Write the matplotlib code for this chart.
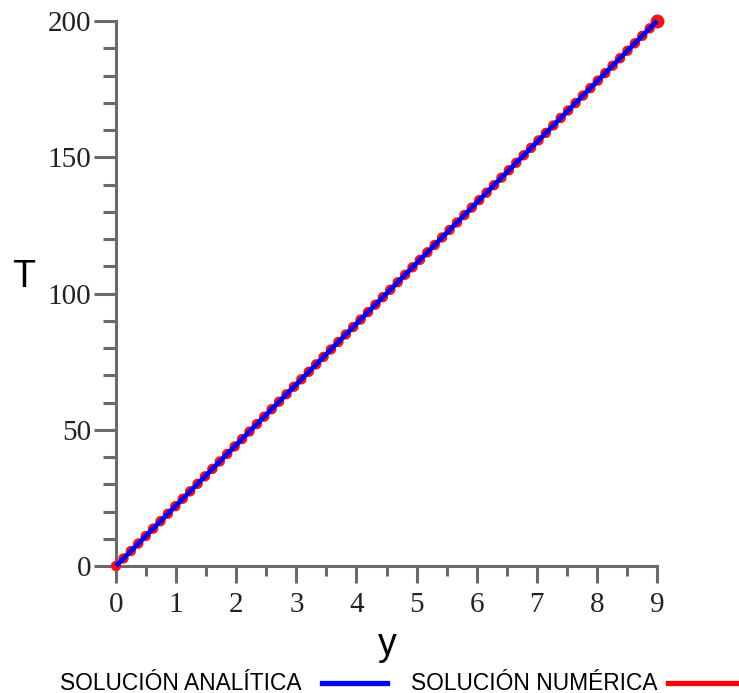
import matplotlib
matplotlib.use("Agg")
import matplotlib.pyplot as plt
from matplotlib.lines import Line2D
from matplotlib.ticker import MultipleLocator

# Data
y_vals = [0, 9]
T_analitica = [0, 200]
T_numerica = [0, 200]
x_ticks = [0, 1, 2, 3, 4, 5, 6, 7, 8, 9]
y_ticks = [0, 50, 100, 150, 200]
legend_labels = ["SOLUCIÓN ANALÍTICA", "SOLUCIÓN NUMÉRICA"]
x_label = "y"
y_label = "T"

W, H = 739, 693
fig = plt.figure(figsize=(W / 100, H / 100), dpi=100)
ax = fig.add_axes([116 / W, 1 - 566 / H, (657 - 116) / W, (566 - 21) / H])

spine_col = "#6a6a6a"
lw_sp = 2.2

# numerical (red dotted, underneath)
ax.plot(y_vals, T_numerica, color="#ff1010", lw=7.5, linestyle=(0, (0.01, 1.0)),
        dash_capstyle="round", solid_capstyle="round", clip_on=False, zorder=3)
ax.plot(y_vals[-1:], T_numerica[-1:], "o", color="#ff1010", ms=9, clip_on=False, zorder=3)
# analytical (blue solid, on top)
ax.plot(y_vals, T_analitica, color="#0000ff", lw=3.4, solid_capstyle="butt",
        clip_on=False, zorder=4)

ax.set_xlim(0, 9)
ax.set_ylim(0, 200)
for s in ["top", "right"]:
    ax.spines[s].set_visible(False)
for s in ["left", "bottom"]:
    ax.spines[s].set_color(spine_col)
    ax.spines[s].set_linewidth(lw_sp)

ax.set_xticks(x_ticks)
ax.set_yticks(y_ticks)
ax.xaxis.set_minor_locator(MultipleLocator(0.5))
ax.yaxis.set_minor_locator(MultipleLocator(10))

tick_font = {"family": "Liberation Serif", "size": 21}
ax.set_xticklabels([str(v) for v in x_ticks], fontdict=tick_font, color="#222222")
ax.set_yticklabels([str(v) for v in y_ticks], fontdict=tick_font, color="#222222")
ax.tick_params(axis="x", which="major", length=12.5, width=lw_sp, color=spine_col, pad=6)
ax.tick_params(axis="x", which="minor", length=7.5, width=lw_sp, color=spine_col)
ax.tick_params(axis="y", which="major", length=16, width=lw_sp, color=spine_col, pad=2)
ax.tick_params(axis="y", which="minor", length=9.5, width=lw_sp, color=spine_col)
ax.yaxis.get_major_ticks()[0].tick1line.set_color("black")

fig.text(24 / W, 1 - 277 / H, y_label, family="Liberation Sans", fontsize=27,
         ha="center", va="center", color="black")
fig.text(387 / W, 1 - 645 / H, x_label, family="Liberation Sans", fontsize=27,
         ha="center", va="center", color="black")

# Legend (manual, along the bottom)
fig.text(60 / W, 1 - 683 / H, legend_labels[0], family="Liberation Sans", fontsize=16.4,
         ha="left", va="center", color="black")
fig.add_artist(Line2D([322 / W, 387 / W], [1 - 683 / H, 1 - 683 / H],
                      transform=fig.transFigure, color="#0000ff", lw=3.8))
fig.text(411 / W, 1 - 683 / H, legend_labels[1], family="Liberation Sans", fontsize=16.4,
         ha="left", va="center", color="black")
fig.add_artist(Line2D([668 / W, 739 / W], [1 - 683 / H, 1 - 683 / H],
                      transform=fig.transFigure, color="#ff0000", lw=3.8))

fig.savefig("out.png", dpi=100)
